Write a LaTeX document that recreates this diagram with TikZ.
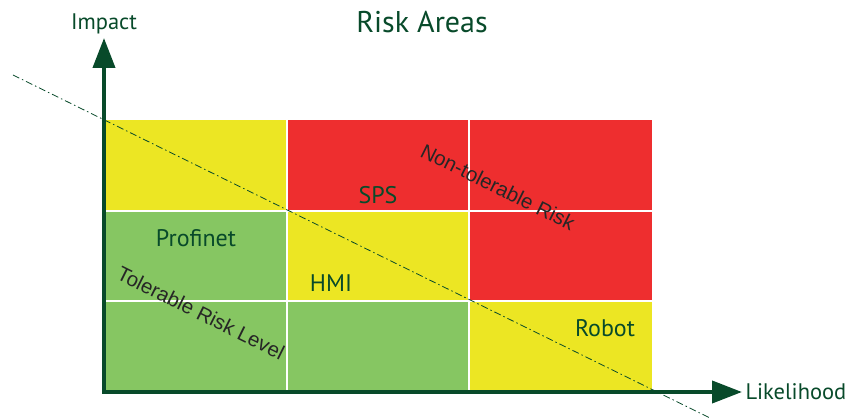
\documentclass[tikz,border=0pt]{standalone}
\usepackage{fontspec}
\setmainfont{PT Sans}
\newfontfamily\arialfont{Liberation Sans}
\usetikzlibrary{arrows.meta,positioning}
\definecolor{riskyellow}{HTML}{ECE623}
\definecolor{riskred}{HTML}{EE2E2F}
\definecolor{riskgreen}{HTML}{86C662}
\definecolor{axisgreen}{HTML}{084A2A}
\tikzset{
  axisline/.style={axisgreen, line width=4pt, -{Triangle[length=30pt,width=22pt]}},
  axislabel/.style={text=axisgreen, font=\fontsize{22.5}{26}\selectfont},
  arealabel/.style={text=axisgreen, font=\fontsize{24}{28}\selectfont},
  risklabel/.style={text=black!85, font=\arialfont\fontsize{20.5}{24}\selectfont, rotate=-26.4}
}
\begin{document}
\begin{tikzpicture}[x=1pt,y=-1pt]
\useasboundingbox (0,0) rectangle (865,419);

% cells: column, row, colour
\foreach \c/\r/\col in {0/0/riskyellow,1/0/riskred,2/0/riskred,
                        0/1/riskgreen,1/1/riskyellow,2/1/riskred,
                        0/2/riskgreen,1/2/riskgreen,2/2/riskyellow}
  \fill[\col] ({104+182.7*\c},{120+90.7*\r}) rectangle ++(182.7,90.7);
%\draw grid lines
\draw[white, line width=1.3pt] (287,120) -- (287,392) (469,120) -- (469,392)
  (104,211) -- (652,211) (104,301) -- (652,301);

\coordinate (O) at (104,392);
\coordinate (ytip) at (104,38);
\coordinate (xtip) at (742,392);
\coordinate (L1) at (13,75);
\coordinate (L2) at (710,418);

\draw[axisgreen, line width=0.8pt, dash pattern=on 7pt off 3pt on 1.5pt off 3pt] (L1) -- (L2);

\draw[axisline] (O) -- (ytip);
\draw[axisline] ([xshift=-2pt]O) -- (xtip);

\node[above=0pt of ytip, axislabel] (impact) {Impact};
\node[right=0pt of xtip, axislabel] (likelihood) {Likelihood};
\node[text=axisgreen, font=\fontsize{30}{34}\selectfont] (title) at (422,22) {Risk Areas};

\node[arealabel] (sps) at (378,195) {SPS};
\node[arealabel] (profinet) at (196,238) {Profinet};
\node[arealabel] (hmi) at (331,283) {HMI};
\node[arealabel] (robot) at (605,328) {Robot};

\node[risklabel] (nontol) at (498,187) {Non-tolerable Risk};
\node[risklabel] (tol) at (201,313) {Tolerable Risk Level};

\end{tikzpicture}
\end{document}
